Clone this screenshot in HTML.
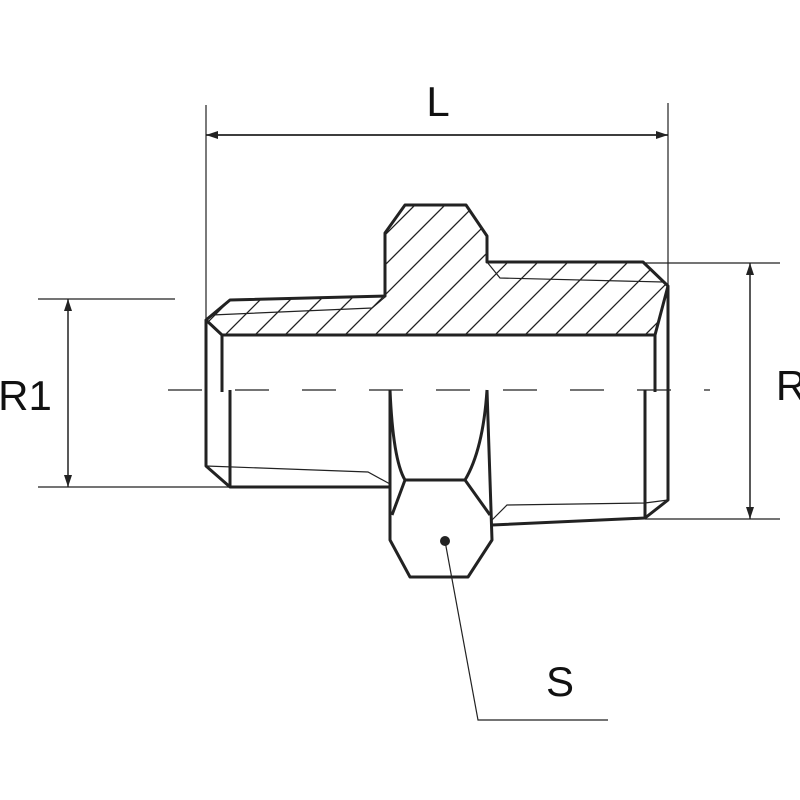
<!DOCTYPE html>
<html><head><style>html,body{margin:0;padding:0;background:#fff}svg{display:block}</style></head>
<body>
<svg width="800" height="800" viewBox="0 0 800 800" xmlns="http://www.w3.org/2000/svg">
<defs>
<clipPath id="hc"><polygon points="206,320 230,300 385,296 385,233 405,205 466,205 487,236 487,262 643,262 668,286 655,335 222,335"/></clipPath>
<marker id="a" markerWidth="12" markerHeight="8" refX="12" refY="4" orient="auto-start-reverse" markerUnits="userSpaceOnUse"><path d="M0,0 L12,4 L0,8 z" fill="#222"/></marker>
</defs>
<g fill="none" stroke="#222">
<g clip-path="url(#hc)" stroke-width="1.3">
<path d="M100,400 l250,-250 M130,400 l250,-250 M160,400 l250,-250 M190,400 l250,-250 M220,400 l250,-250 M250,400 l250,-250 M280,400 l250,-250 M310,400 l250,-250 M340,400 l250,-250 M370,400 l250,-250 M400,400 l250,-250 M430,400 l250,-250 M460,400 l250,-250 M490,400 l250,-250 M520,400 l250,-250 M550,400 l250,-250 M580,400 l250,-250 M610,400 l250,-250 M640,400 l250,-250"/>
</g>
<g stroke-width="1.2">
<line x1="206" y1="105" x2="206" y2="320"/>
<line x1="668" y1="103" x2="668" y2="286"/>
<line x1="38" y1="299" x2="175" y2="299"/>
<line x1="38" y1="487" x2="230" y2="487"/>
<line x1="643" y1="263" x2="780" y2="263"/>
<line x1="645" y1="519" x2="780" y2="519"/>
<path d="M212,315 L372,308 L385,297"/>
<path d="M487,262 L500,278 L663,282"/>
<path d="M206,466 L368,472 L390,484"/>
<path d="M668,500 L645,503 L507,505 L492,520" />
<path d="M445,541 L478,720 L608,720"/>
</g>
<line x1="206" y1="135" x2="668" y2="135" stroke-width="1.8" marker-start="url(#a)" marker-end="url(#a)"/>
<line x1="68" y1="299" x2="68" y2="487" stroke-width="1.5" marker-start="url(#a)" marker-end="url(#a)"/>
<line x1="750" y1="263" x2="750" y2="519" stroke-width="1.5" marker-start="url(#a)" marker-end="url(#a)"/>
<line x1="168" y1="390" x2="710" y2="390" stroke-width="1.3" stroke-dasharray="34,33"/>
<g stroke-width="3" stroke-linejoin="round">
<polygon points="206,320 230,300 385,296 385,233 405,205 466,205 487,236 487,262 643,262 668,286 655,335 222,335"/>
<path d="M206,320 L206,466 L230,487 L390,487"/>
<path d="M222,335 L222,392"/>
<path d="M230,390 L230,487"/>
<path d="M655,335 L655,392"/>
<path d="M668,286 L668,500 L645,518 L492,525"/>
<path d="M645,390 L645,518"/>
<path d="M390,390 L390,540 L410,577 L468,577 L492,540 L487,390"/>
<path d="M390,390 Q393,460 405,480 L465,480 Q483,450 487,390"/>
<path d="M405,480 L392,515 M465,480 L490,515"/>
</g>
</g>
<circle cx="445" cy="541" r="5" fill="#222"/>
<g font-family="Liberation Sans, sans-serif" fill="#111" font-size="42">
<text x="438" y="116" text-anchor="middle">L</text>
<text x="25" y="410" text-anchor="middle">R1</text>
<text x="791" y="400" text-anchor="middle">R</text>
<text x="560" y="696" text-anchor="middle">S</text>
</g>
</svg>
</body></html>
